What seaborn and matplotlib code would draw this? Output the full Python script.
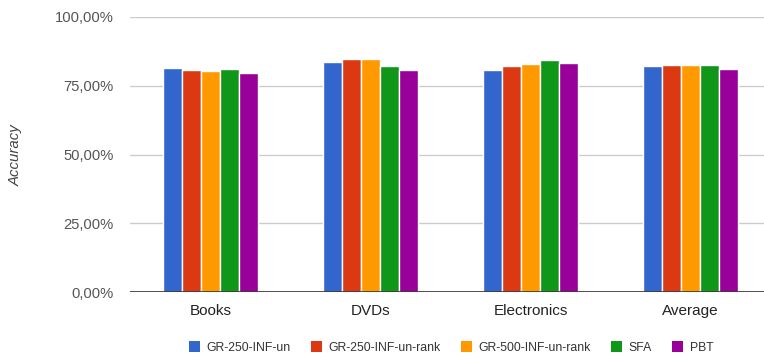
import matplotlib
matplotlib.use("Agg")
import matplotlib.pyplot as plt
from matplotlib.patches import Patch
import seaborn as sns
import pandas as pd

categories = ["Books", "DVDs", "Electronics", "Average"]
series = ["GR-250-INF-un", "GR-250-INF-un-rank", "GR-500-INF-un-rank", "SFA", "PBT"]
values = {
    "GR-250-INF-un":      [81.6, 83.8, 80.7, 82.1],
    "GR-250-INF-un-rank": [80.7, 84.7, 82.1, 82.5],
    "GR-500-INF-un-rank": [80.3, 84.7, 82.8, 82.5],
    "SFA":                [81.1, 82.1, 84.2, 82.5],
    "PBT":                [79.5, 80.7, 83.3, 81.1],
}
colors = ["#3366cc", "#dc3912", "#ff9900", "#109618", "#990099"]
y_ticks = [0, 25, 50, 75, 100]
y_ticklabels = ["0,00%", "25,00%", "50,00%", "75,00%", "100,00%"]

rows = []
for s in series:
    for c, v in zip(categories, values[s]):
        rows.append({"Category": c, "Series": s, "Accuracy": v})
df = pd.DataFrame(rows)

sns.set_theme(style="white")
plt.rcParams["font.family"] = ["Liberation Sans", "DejaVu Sans"]

fig = plt.figure(figsize=(7.64, 3.58), dpi=100)
W, H = 764, 358
ax = fig.add_axes([130 / W, (H - 292) / H, (764 - 130) / W, (292 - 17) / H])

sns.barplot(data=df, x="Category", y="Accuracy", hue="Series", order=categories,
            hue_order=series, palette=colors, width=0.594, gap=0.03,
            saturation=1, legend=False, ax=ax, zorder=3)

ax.set_xlim(-0.503, 3.459)
ax.set_ylim(0, 100)
ax.set_yticks(y_ticks)
ax.set_yticklabels(y_ticklabels)
ax.yaxis.grid(True, color="#cccccc", linewidth=1, zorder=0)
ax.axhline(0, color="#333333", linewidth=1.2, zorder=4)
for sp in ax.spines.values():
    sp.set_visible(False)
ax.tick_params(axis="both", length=0)
ax.tick_params(axis="y", labelsize=10.6, labelcolor="#555555", pad=12)
ax.tick_params(axis="x", labelsize=11, labelcolor="#222222", pad=8.5)
ax.set_xlabel("")
ax.set_ylabel("")
fig.text(16 / W, 1 - 155 / H, "Accuracy", rotation=90, fontsize=10.8,
         style="italic", color="#444444", ha="center", va="center")

handles = [Patch(facecolor=c, edgecolor="none") for c in colors]
fig.legend(handles, series, loc="center", bbox_to_anchor=(451 / W, 1 - 347.5 / H),
           ncol=5, frameon=False, fontsize=8.8, handlelength=0.9, handleheight=0.9,
           handletextpad=0.5, columnspacing=1.7, labelcolor="#333333")

fig.savefig("out.png", dpi=100)
